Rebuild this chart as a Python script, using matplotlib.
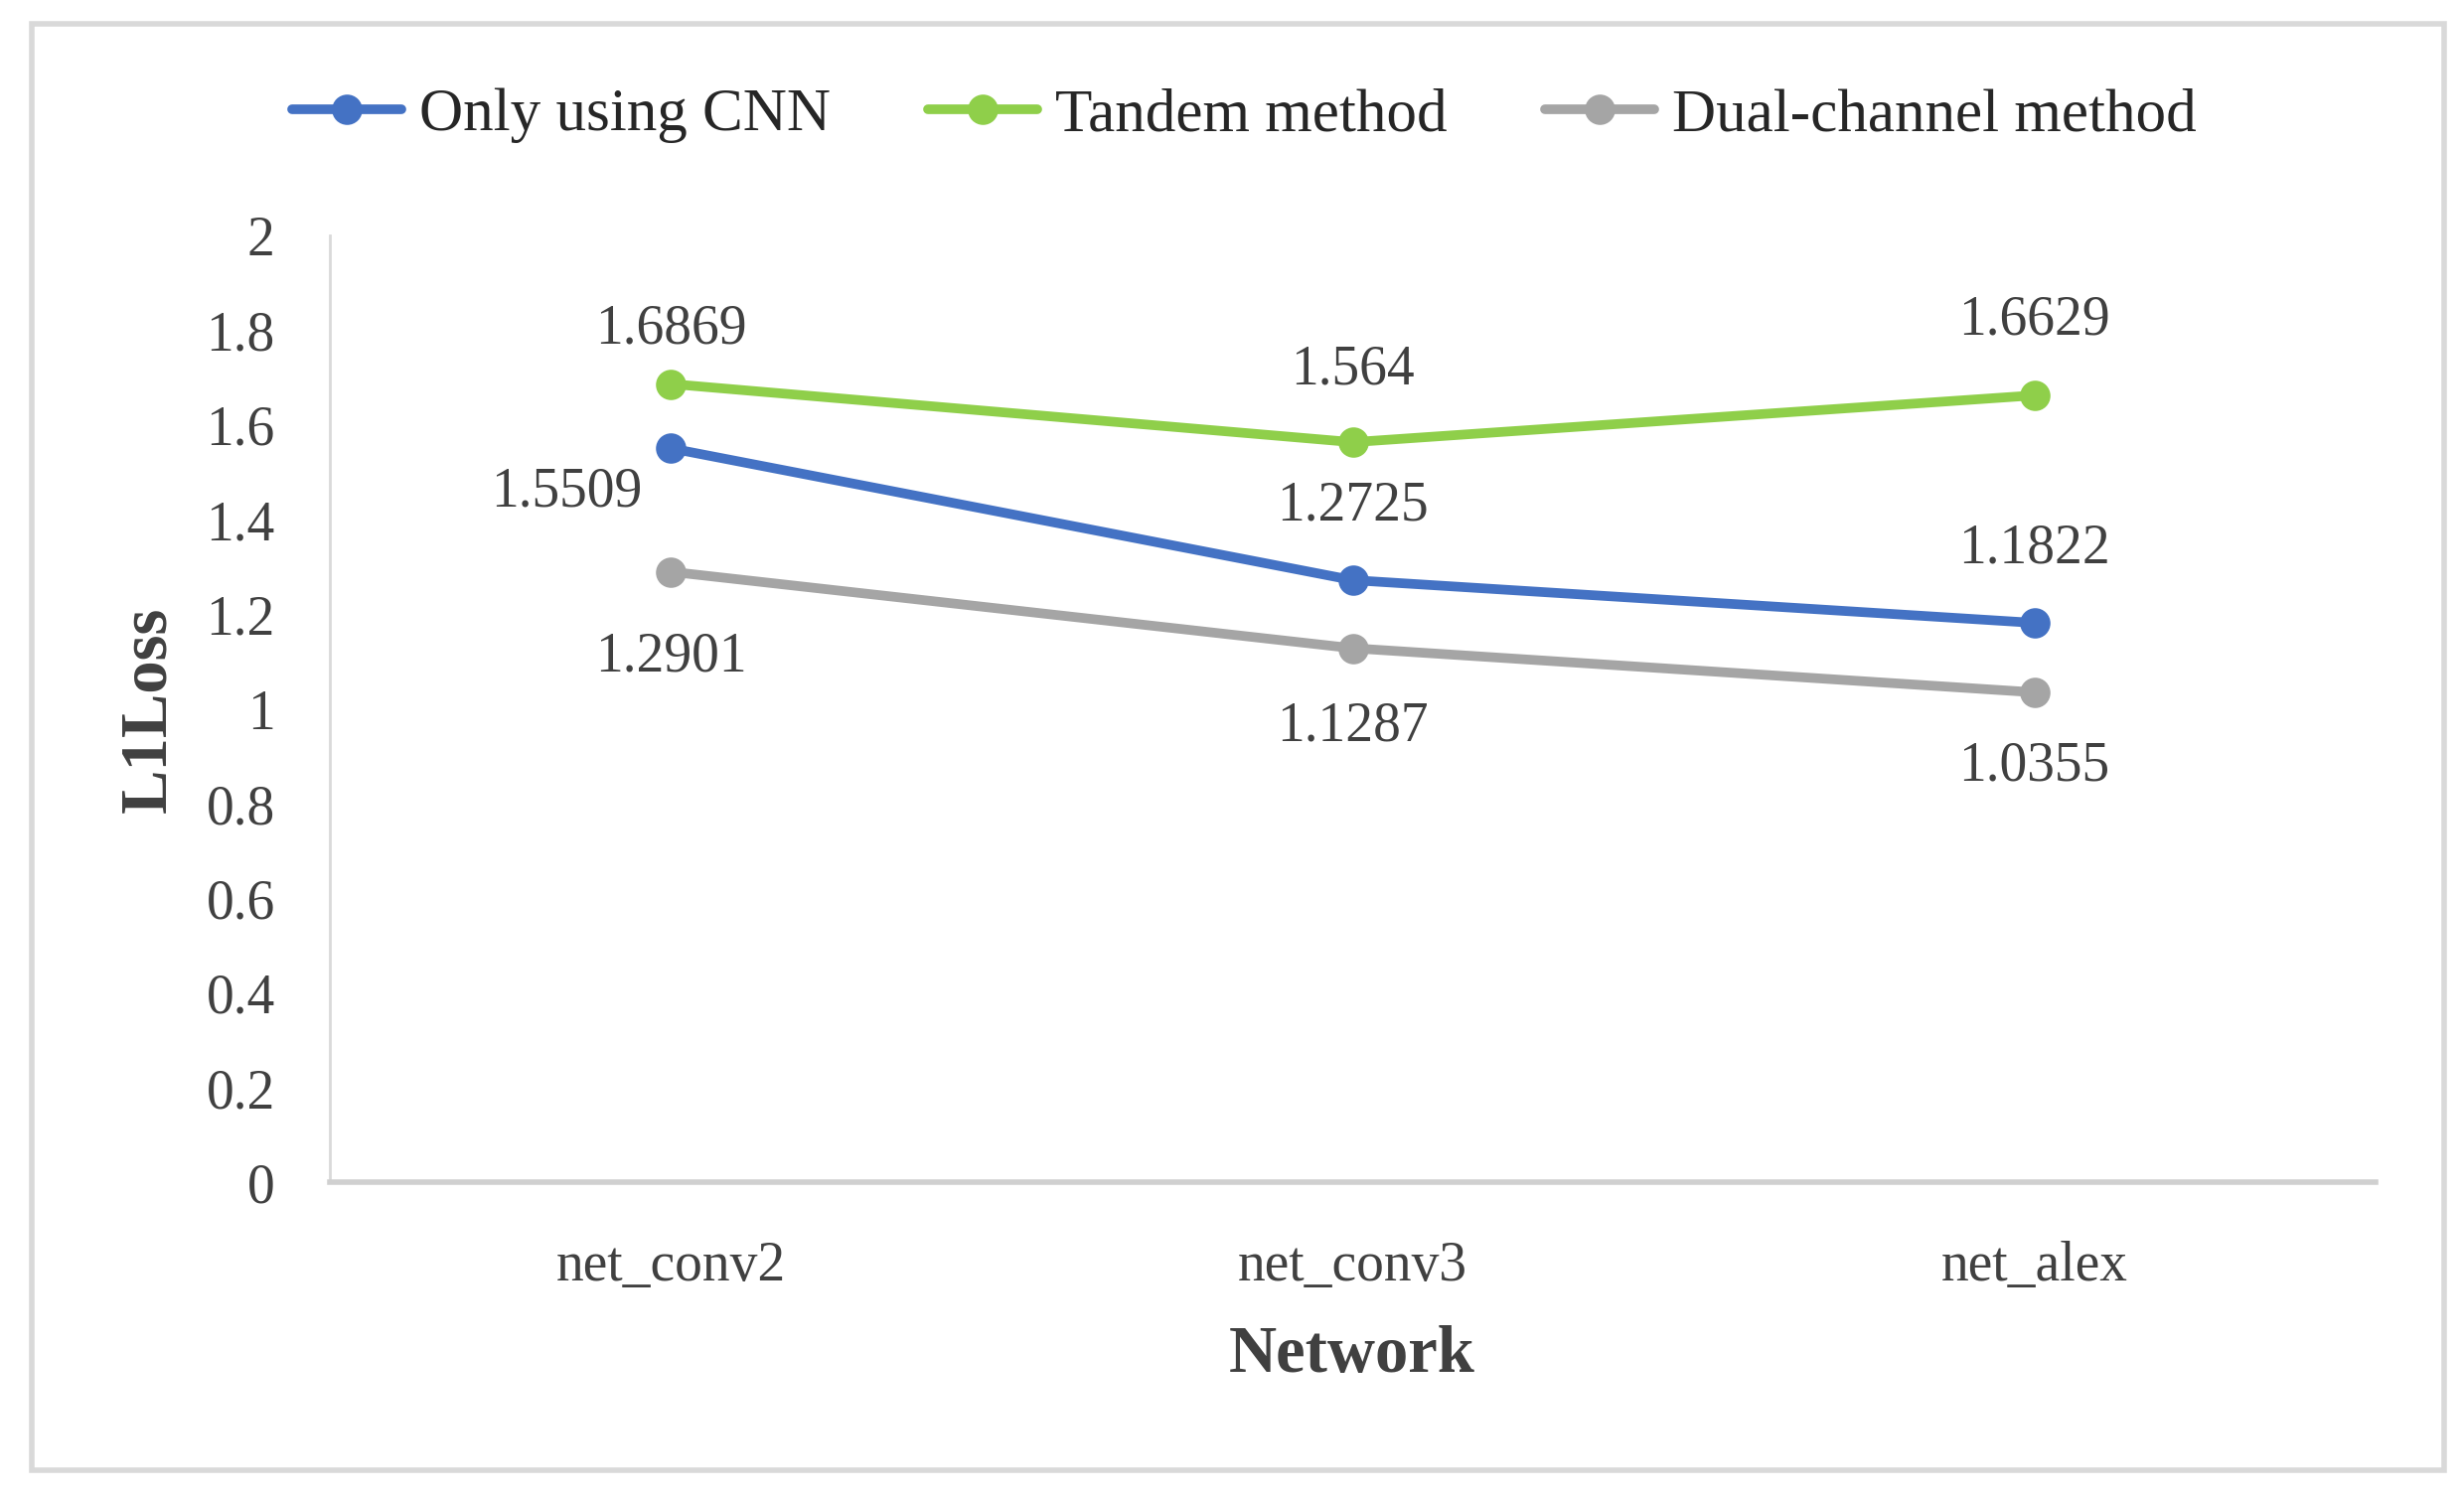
import numpy as np
import matplotlib
matplotlib.use("Agg")
import matplotlib.pyplot as plt
from matplotlib.patches import Rectangle

plt.rcParams['font.family'] = ['Liberation Serif', 'DejaVu Serif']

# data
networks = ["net_conv2", "net_conv3", "net_alex"]
cnn_only = [1.5509, 1.2725, 1.1822]
tandem = [1.6869, 1.564, 1.6629]
dual_channel = [1.2901, 1.1287, 1.0355]
y_ticks = [0, 0.2, 0.4, 0.6, 0.8, 1, 1.2, 1.4, 1.6, 1.8, 2]

# label offsets in points (dx, dy)
cnn_off = [(-38, -16), (0, 27), (0, 27)]
tandem_off = [(0, 20), (0, 26), (0, 27)]
dual_off = [(0, -31), (0, -28.5), (0, -27)]

fig = plt.figure(figsize=(12.4, 7.55), dpi=200)
ax = fig.add_axes([0.134, 0.2117, 0.83, 0.6311])

x = np.arange(len(networks))
series = [
    ("Only using CNN", cnn_only, "#4472C4", cnn_off),
    ("Tandem method", tandem, "#8FCF4A", tandem_off),
    ("Dual-channel method", dual_channel, "#A5A5A5", dual_off),
]
for name, vals, col, offs in series:
    ax.plot(x, vals, color=col, lw=3.5, marker='o', ms=10, label=name,
            solid_capstyle='round')
    for xi, v, (dx, dy) in zip(x, vals, offs):
        lab = ('%.4f' % v).rstrip('0')
        ax.annotate(lab, (xi, v), xytext=(dx, dy), textcoords='offset points',
                    ha='center', va='center', fontsize=20, color='#404040')

ax.set_xlim(-0.5, 2.5)
ax.set_ylim(0, 2)
ax.set_xticks(x)
ax.set_xticklabels(networks)
ax.set_yticks(y_ticks)
ax.set_yticklabels([('%g' % t) for t in y_ticks])
ax.tick_params(axis='both', length=0, labelsize=20, labelcolor='#404040')
ax.tick_params(axis='y', pad=20)
ax.tick_params(axis='x', pad=21)

for s in ['top', 'right']:
    ax.spines[s].set_visible(False)
ax.spines['left'].set_color('#D9D9D9')
ax.spines['left'].set_linewidth(1.0)
ax.spines['bottom'].set_color('#D0D0D0')
ax.spines['bottom'].set_linewidth(2.0)

fig.text(0.5485, 0.0964, "Network", ha='center', va='center',
         fontsize=24, fontweight='bold', color='#404040')
fig.text(0.0606, 0.527, "L1Loss", ha='center', va='center', rotation=90,
         fontsize=24, fontweight='bold', color='#404040')

fig.legend(loc='center', bbox_to_anchor=(0.505, 0.923), ncol=3, frameon=False,
           fontsize=22, handlelength=1.8, handletextpad=0.3, columnspacing=1.6,
           labelcolor='#262626')

fig.patches.append(Rectangle((0.0128, 0.02), 0.979, 0.964, transform=fig.transFigure,
                             fill=False, edgecolor='#D9D9D9', lw=2.0))

fig.savefig("out.png", dpi=200, facecolor='white')
